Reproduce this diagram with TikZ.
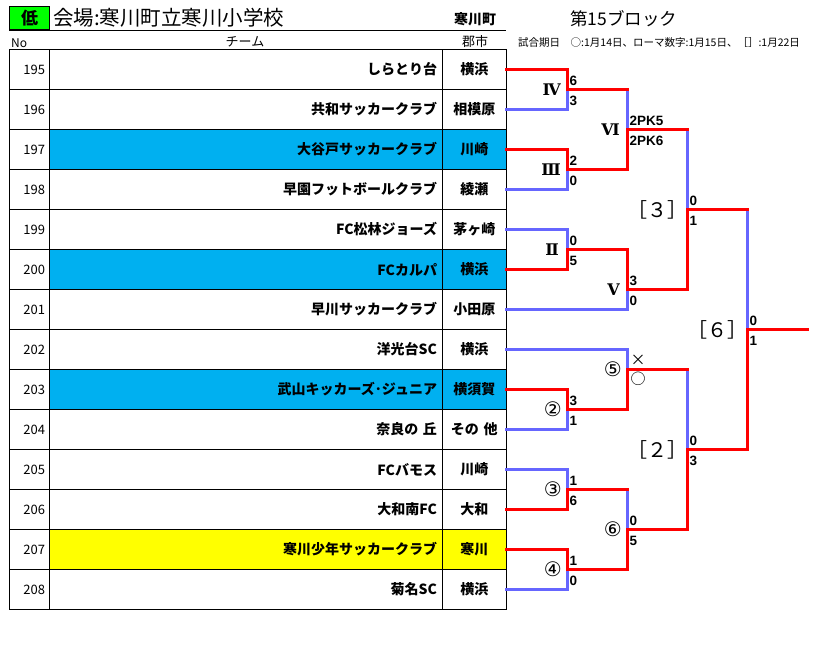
\documentclass[tikz,border=0pt]{standalone}
\usepackage{fontspec}
\setmainfont{Noto Sans CJK JP}
\newfontfamily\latinfont{Liberation Sans}
\newfontfamily\romanfont{DejaVu Serif}
\newfontfamily\circfont{DejaVu Sans}
\usetikzlibrary{positioning}

\definecolor{clubblue}{RGB}{0,176,240}
\definecolor{hostyellow}{RGB}{255,255,0}
\definecolor{lowgreen}{RGB}{0,255,0}
\definecolor{winred}{RGB}{255,0,0}
\definecolor{loseblue}{RGB}{102,102,255}

\tikzset{
	cell/.style={draw, line width=1pt, minimum height=40pt, inner ysep=0pt, outer sep=0pt},
	nocell/.style={cell, text width=31pt, inner xsep=4.5pt, align=right, font=\fontsize{13}{13}\selectfont},
	teamcell/.style={cell, text width=382pt, inner xsep=5.5pt, align=right, font=\bfseries\fontsize{14}{14}\selectfont},
	citycell/.style={cell, text width=53.5pt, inner xsep=5pt, align=center, font=\bfseries\fontsize{14}{14}\selectfont},
	head/.style={inner sep=0pt, font=\fontsize{13}{13}\selectfont},
	win/.style={draw=winred, line width=3pt, line cap=rect},
	lose/.style={draw=loseblue, line width=3pt, line cap=rect},
	score/.style={inner sep=0pt, text height=9.5pt, text depth=0pt, font=\latinfont\bfseries\fontsize{13.5}{13.5}\selectfont},
	mark/.style={},
	roundno/.style={inner sep=0pt, font=\romanfont\bfseries\fontsize{16}{16}\selectfont},
	circno/.style={inner sep=0pt, font=\circfont\fontsize{20}{20}\selectfont},
	bracketno/.style={inner sep=0pt, font=\fontsize{20}{20}\selectfont}
}

\begin{document}
\begin{tikzpicture}[x=1pt,y=-1pt]
	\path[fill=white, use as bounding box] (0,0) rectangle (819,646);

	% heading
	\node[draw, line width=1pt, fill=lowgreen, minimum width=40pt, minimum height=23pt, inner sep=0pt, anchor=north west, font=\bfseries\fontsize{17}{17}\selectfont] (level) at (9,6) {低};
	\node[right=3pt of level, inner sep=0pt, font=\fontsize{20.5}{20.5}\selectfont] (venue) {会場:寒川町立寒川小学校};
	\node[inner sep=0pt, font=\bfseries\fontsize{14}{14}\selectfont] (town) at (475,19) {寒川町};
	\node[anchor=west, inner sep=0pt, font=\fontsize{17.5}{17.5}\selectfont] (block) at (570,19) {第15ブロック};
	\node[head, anchor=west, font=\fontsize{12}{12}\selectfont] (nohead) at (11,43) {No};
	\node[head] (teamhead) at (245,42) {チーム};
	\node[head] (cityhead) at (475,42) {郡市};
	\node[head, anchor=west, font=\fontsize{10.5}{10.5}\selectfont] (dates) at (518,43) {試合期日　○:1月14日、ローマ数字:1月15日、［］:1月22日};

	% teams
	\foreach \no/\team/\city/\shade [count=\i from 0] in {
		195/しらとり台/横浜/white,
		196/共和サッカークラブ/相模原/white,
		197/大谷戸サッカークラブ/川崎/clubblue,
		198/早園フットボールクラブ/綾瀬/white,
		199/FC松林ジョーズ/茅ヶ崎/white,
		200/FCカルパ/横浜/clubblue,
		201/早川サッカークラブ/小田原/white,
		202/洋光台SC/横浜/white,
		203/武山キッカーズ･ジュニア/横須賀/clubblue,
		204/奈良の 丘/その 他/white,
		205/FCバモス/川崎/white,
		206/大和南FC/大和/white,
		207/寒川少年サッカークラブ/寒川/hostyellow,
		208/菊名SC/横浜/white}
	{
		\node[nocell, anchor=north west] (no\no) at (9.5,49.5+40*\i) {\no};
		\node[teamcell, fill=\shade, right=0pt of no\no] (team\no) {\team};
		\node[citycell, fill=\shade, right=0pt of team\no] (city\no) {\city};
	}
	\draw[line width=1pt] (level.south west) -- (level.south west -| city195.east);

	% match points
	\coordinate (m4) at (567,89.5);
	\coordinate (m3) at (567,169.5);
	\coordinate (m2) at (567,249.5);
	\coordinate (m6) at (627,129.5);
	\coordinate (m5) at (627,289.5);
	\coordinate (k3) at (687,209.5);
	\coordinate (c5) at (627,369.5);
	\coordinate (c2) at (567,409.5);
	\coordinate (c3) at (567,489.5);
	\coordinate (c4) at (567,569.5);
	\coordinate (c6) at (627,529.5);
	\coordinate (k2) at (687,449.5);
	\coordinate (k6) at (747,329.5);
	\coordinate (champ) at (807,329.5);

	% losers
	\draw[lose] (city196.east) -| (m4);
	\draw[lose] (city198.east) -| (m3);
	\draw[lose] (city199.east) -| (m2);
	\draw[lose] (m4 -| m6) -- (m6);
	\draw[lose] (city201.east) -| (m5);
	\draw[lose] (m6 -| k3) -- (k3);
	\draw[lose] (city202.east) -| (c5);
	\draw[lose] (city204.east) -| (c2);
	\draw[lose] (city205.east) -| (c3);
	\draw[lose] (city208.east) -| (c4);
	\draw[lose] (c3 -| c6) -- (c6);
	\draw[lose] (c5 -| k2) -- (k2);
	\draw[lose] (k3 -| k6) -- (k6);

	% winners
	\draw[win] (city195.east) -| (m4);
	\draw[win] (city197.east) -| (m3);
	\draw[win] (city200.east) -| (m2);
	\draw[win] (m4) -- (m4 -| m6);
	\draw[win] (m3) -| (m6);
	\draw[win] (m2) -| (m5);
	\draw[win] (m6) -- (m6 -| k3);
	\draw[win] (m5) -| (k3);
	\draw[win] (city203.east) -| (c2);
	\draw[win] (c2) -| (c5);
	\draw[win] (city206.east) -| (c3);
	\draw[win] (city207.east) -| (c4);
	\draw[win] (c3) -- (c3 -| c6);
	\draw[win] (c4) -| (c6);
	\draw[win] (c5) -- (c5 -| k2);
	\draw[win] (c6) -| (k2);
	\draw[win] (k3) -- (k3 -| k6);
	\draw[win] (k2) -| (k6);
	\draw[win] (k6) -- (champ);

	% scores
	\node[score, above right=4pt and 2.5pt of m4] (s4a) {6};
	\node[score, below right=6.5pt and 2.5pt of m4] (s4b) {3};
	\node[score, above right=4pt and 2.5pt of m6] (s6a) {2PK5};
	\node[score, below right=6.5pt and 2.5pt of m6] (s6b) {2PK6};
	\node[score, above right=4pt and 2.5pt of m3] (s3a) {2};
	\node[score, below right=6.5pt and 2.5pt of m3] (s3b) {0};
	\node[score, above right=4pt and 2.5pt of k3] (t3a) {0};
	\node[score, below right=6.5pt and 2.5pt of k3] (t3b) {1};
	\node[score, above right=4pt and 2.5pt of m2] (s2a) {0};
	\node[score, below right=6.5pt and 2.5pt of m2] (s2b) {5};
	\node[score, above right=4pt and 2.5pt of m5] (s5a) {3};
	\node[score, below right=6.5pt and 2.5pt of m5] (s5b) {0};
	\node[score, above right=4pt and 2.5pt of k6] (t6a) {0};
	\node[score, below right=6.5pt and 2.5pt of k6] (t6b) {1};
	\node[score, font=\fontsize{15}{15}\selectfont, above right=4pt and 3.5pt of c5] (d5a) {×};
	\node[score, font=\fontsize{15}{15}\selectfont, below right=5pt and 3.5pt of c5] (d5b) {○};
	\node[score, above right=4pt and 2.5pt of c2] (d2a) {3};
	\node[score, below right=6.5pt and 2.5pt of c2] (d2b) {1};
	\node[score, above right=4pt and 2.5pt of k2] (t2a) {0};
	\node[score, below right=6.5pt and 2.5pt of k2] (t2b) {3};
	\node[score, above right=4pt and 2.5pt of c3] (d3a) {1};
	\node[score, below right=6.5pt and 2.5pt of c3] (d3b) {6};
	\node[score, above right=4pt and 2.5pt of c6] (d6a) {0};
	\node[score, below right=6.5pt and 2.5pt of c6] (d6b) {5};
	\node[score, above right=4pt and 2.5pt of c4] (d4a) {1};
	\node[score, below right=6.5pt and 2.5pt of c4] (d4b) {0};

	% rounds
	\node[roundno, left=6pt of m4] (r4) {Ⅳ};
	\node[roundno, left=7pt of m6] (r6) {Ⅵ};
	\node[roundno, left=6pt of m3] (r3) {Ⅲ};
	\node[roundno, left=8pt of m2] (r2) {Ⅱ};
	\node[roundno, left=7pt of m5] (r5) {Ⅴ};
	\node[circno, left=5pt of c5] (n5) {⑤};
	\node[circno, left=5pt of c2] (n2) {②};
	\node[circno, left=5pt of c3] (n3) {③};
	\node[circno, left=5pt of c4] (n4) {④};
	\node[circno, left=5pt of c6] (n6) {⑥};
	\node[bracketno, left=-1pt of k3] (b3) {［３］};
	\node[bracketno, left=-1pt of k2] (b2) {［２］};
	\node[bracketno, left=-1pt of k6] (b6) {［６］};
\end{tikzpicture}
\end{document}
